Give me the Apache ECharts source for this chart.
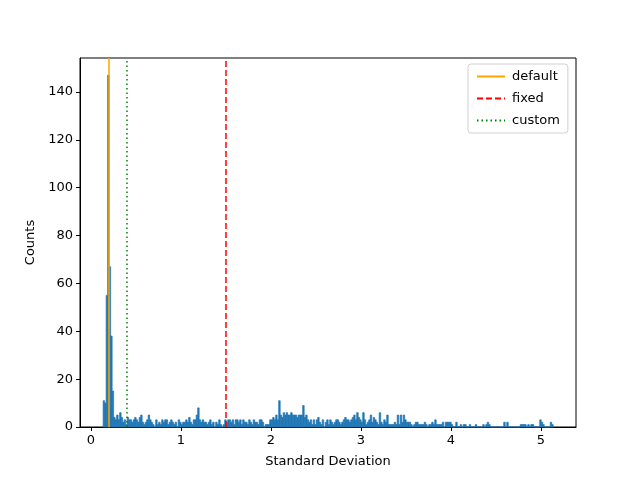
<!DOCTYPE html>
<html>
<head>
<meta charset="utf-8">
<script src="https://cdn.jsdelivr.net/npm/echarts@6/dist/echarts.min.js"></script>
<style>
  html, body { margin: 0; padding: 0; background: #fff; }
  #chart { width: 640px; height: 480px; }
</style>
</head>
<body>
<div id="chart"></div>
<script>
// histogram bins: first edge + width, counts
var binStart = 0.135;
var binWidth = 0.01667;
var counts = [
  11, 10, 55, 147, 67, 38, 15, 4, 3, 5,
  3, 6, 4, 2, 3, 1, 4, 3, 3, 2,
  3, 4, 3, 2, 4, 5, 2, 1, 2, 3,
  5, 3, 2, 1, 0, 3, 1, 2, 1, 3,
  2, 3, 3, 1, 2, 3, 2, 1, 2, 0,
  3, 2, 1, 2, 2, 3, 2, 4, 2, 1,
  3, 3, 5, 8, 3, 2, 3, 2, 2, 1,
  2, 3, 1, 2, 0, 2, 1, 3, 1, 0,
  1, 3, 2, 3, 3, 2, 3, 1, 3, 3,
  2, 3, 1, 3, 2, 2, 1, 3, 2, 1,
  3, 2, 2, 1, 3, 3, 2, 0, 1, 1,
  1, 3, 3, 4, 3, 5, 3, 11, 5, 4,
  6, 5, 6, 5, 5, 6, 5, 5, 5, 4,
  5, 5, 5, 9, 4, 5, 3, 2, 3, 1,
  3, 1, 3, 4, 2, 1, 3, 0, 2, 3,
  1, 3, 2, 1, 2, 3, 3, 2, 1, 2,
  3, 4, 3, 3, 2, 3, 4, 5, 3, 6,
  4, 3, 2, 6, 3, 1, 2, 3, 5, 2,
  4, 3, 2, 1, 6, 2, 1, 3, 2, 5,
  1, 1, 1, 1, 2, 1, 5, 1, 5, 2,
  5, 3, 2, 2, 2, 1, 0, 1, 2, 2,
  1, 1, 1, 1, 2, 1, 0, 1, 1, 2,
  1, 3, 1, 1, 1, 1, 2, 0, 2, 2,
  2, 2, 1, 0, 0, 2, 0, 0, 1, 0,
  1, 1, 0, 0, 1, 0, 0, 0, 1, 0,
  0, 0, 0, 1, 0, 1, 2, 1, 0, 0,
  0, 0, 0, 0, 0, 0, 0, 2, 0, 2,
  0, 0, 0, 0, 0, 0, 0, 0, 1, 1,
  1, 1, 0, 1, 0, 1, 1, 0, 0, 0,
  0, 3, 2, 1, 0, 0, 0, 0, 2, 1
];

// threshold lines
var lineNames = ['default', 'fixed', 'custom'];
var lineValues = [0.2, 1.5, 0.4];
var lineColors = ['#ffa500', '#ff0000', '#008000'];
var lineTypes = ['solid', [6, 3], [1.5, 3]];

var xTicks = [0, 1, 2, 3, 4, 5];
var yTicks = [0, 20, 40, 60, 80, 100, 120, 140];
var xMin = -0.122, xMax = 5.389;
var yMax = 154.2;

var font = 'DejaVu Sans';

(function () {
  var chart = echarts.init(document.getElementById('chart'), null, { renderer: 'canvas' });

  var barData = counts.map(function (c, i) {
    return [binStart + i * binWidth, binStart + (i + 1) * binWidth, c];
  });

  var series = [{
    name: 'hist',
    type: 'custom',
    silent: true,
    renderItem: function (params, api) {
      var p0 = api.coord([api.value(0), 0]);
      var p1 = api.coord([api.value(1), api.value(2)]);
      return {
        type: 'rect',
        shape: { x: p0[0], y: p1[1], width: p1[0] - p0[0], height: p0[1] - p1[1] },
        style: { fill: '#1f77b4', stroke: '#1f77b4', lineWidth: 0.7 }
      };
    },
    encode: { x: [0, 1], y: 2 },
    data: barData,
    z: 1
  }];

  lineNames.forEach(function (n, i) {
    series.push({
      name: n,
      type: 'line',
      symbol: 'none',
      silent: true,
      lineStyle: { color: lineColors[i], width: 1.5, type: lineTypes[i] },
      itemStyle: { color: lineColors[i] },
      data: [[lineValues[i], 0], [lineValues[i], yMax]],
      z: 3
    });
  });

  chart.setOption({
    animation: false,
    grid: {
      left: 80, right: 64, top: 58, bottom: 53,
      show: true, borderColor: '#000', borderWidth: 1, backgroundColor: 'transparent'
    },
    legend: {
      data: lineNames,
      orient: 'vertical',
      left: 468, top: 64,
      itemWidth: 28, itemHeight: 10, itemGap: 9,
      padding: [6, 8, 6, 8],
      borderColor: '#d0d0d0', borderWidth: 1, borderRadius: 3,
      backgroundColor: '#fff',
      itemStyle: { opacity: 0 },
      textStyle: { fontFamily: font, fontSize: 13, color: '#000', padding: [0, 0, 0, 2] }
    },
    xAxis: {
      type: 'value',
      min: xMin, max: xMax,
      name: 'Standard Deviation',
      nameLocation: 'middle', nameGap: 28,
      nameTextStyle: { fontFamily: font, fontSize: 13, color: '#000' },
      axisLine: { show: true, onZero: false, lineStyle: { color: '#000' } },
      axisTick: { show: true, length: 4, customValues: xTicks, lineStyle: { color: '#000' } },
      axisLabel: { customValues: xTicks, fontFamily: font, fontSize: 13, color: '#000', margin: 7 },
      splitLine: { show: false }
    },
    yAxis: {
      type: 'value',
      min: 0, max: yMax,
      name: 'Counts',
      nameLocation: 'middle', nameGap: 43,
      nameTextStyle: { fontFamily: font, fontSize: 13, color: '#000' },
      axisLine: { show: true, onZero: false, lineStyle: { color: '#000' } },
      axisTick: { show: true, length: 4, customValues: yTicks, lineStyle: { color: '#000' } },
      axisLabel: { customValues: yTicks, fontFamily: font, fontSize: 13, color: '#000', margin: 7 },
      splitLine: { show: false }
    },
    series: series
  });
})();
</script>
</body>
</html>
